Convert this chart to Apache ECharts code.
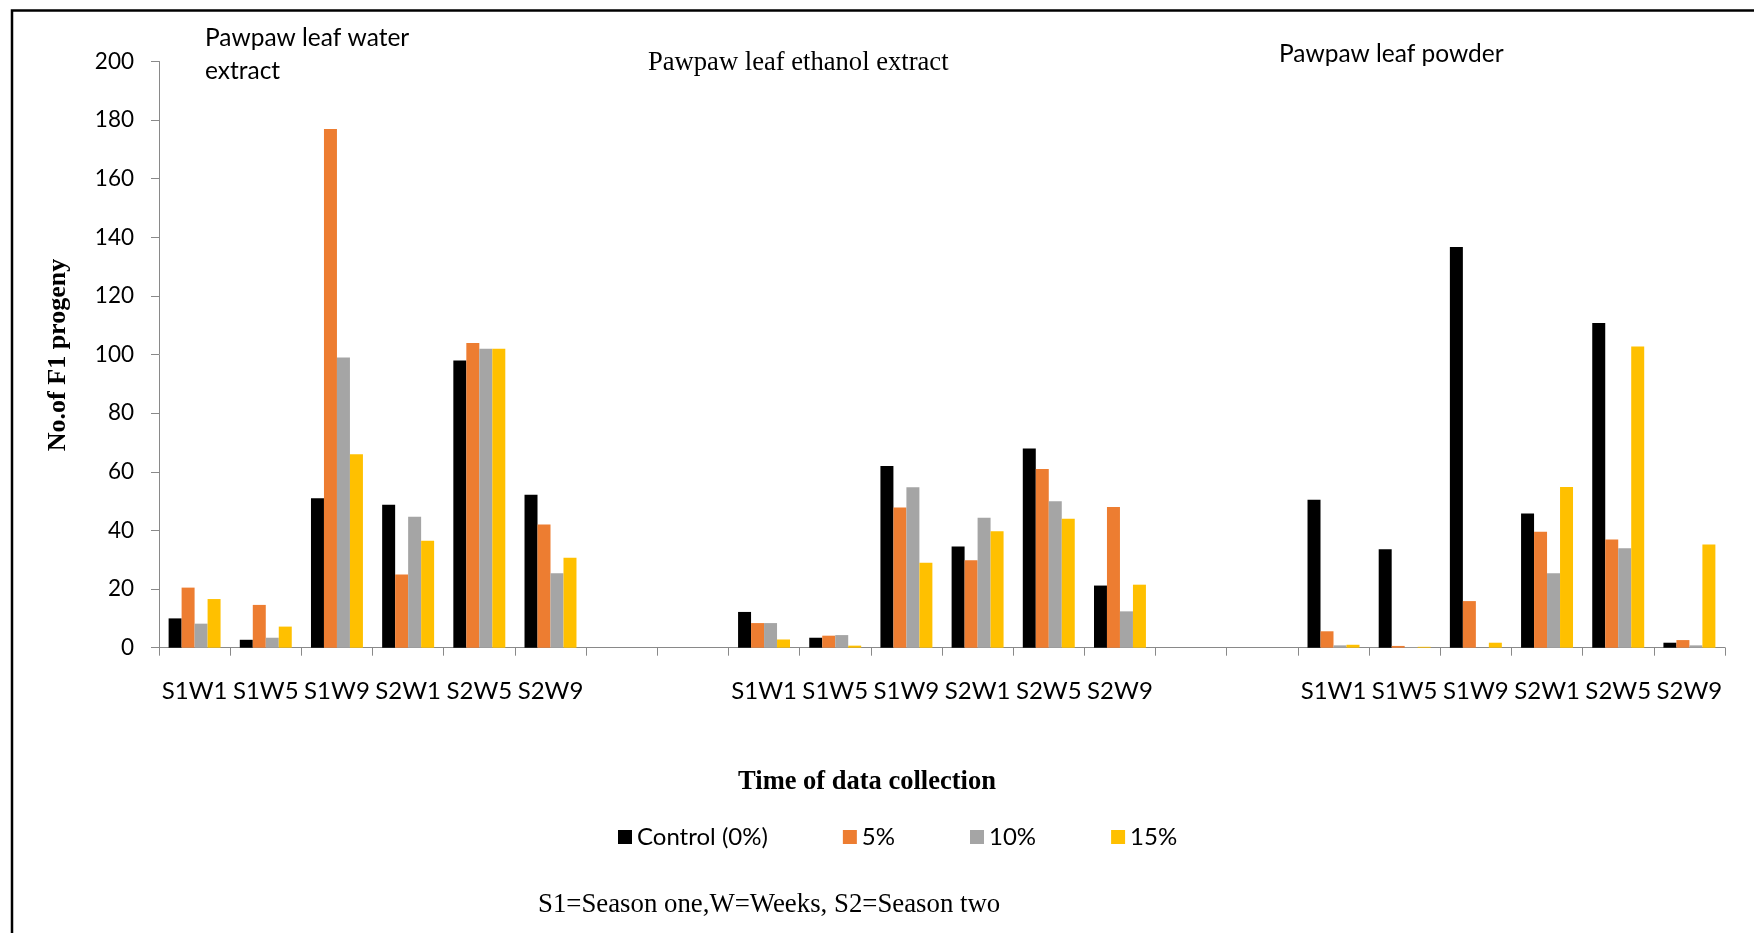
<!DOCTYPE html>
<html>
<head>
<meta charset="utf-8">
<script src="https://cdn.jsdelivr.net/npm/echarts@6/dist/echarts.min.js"></script>
<style>
  html, body { margin: 0; padding: 0; background: #fff; }
  #chart { width: 1754px; height: 933px; }
</style>
</head>
<body>
<div id="chart"></div>
<script>
// Sampling times (S = season, W = week) repeated for each pawpaw leaf treatment
const timePoints = ['S1W1', 'S1W5', 'S1W9', 'S2W1', 'S2W5', 'S2W9'];
const seriesNames = ['Control (0%)', '5%', '10%', '15%'];
const seriesColors = ['#000000', '#ED7D31', '#A5A5A5', '#FFC000'];
const yTicks = { min: 0, max: 200, step: 20 };

// No. of F1 progeny — pawpaw leaf water extract
const waterControl = [10, 2.7, 51, 48.8, 98, 52.2];
const water5 = [20.5, 14.6, 177, 25, 104, 42];
const water10 = [8.2, 3.4, 99, 44.7, 102, 25.4];
const water15 = [16.6, 7.2, 66, 36.5, 102, 30.7];

// No. of F1 progeny — pawpaw leaf ethanol extract
const ethanolControl = [12.2, 3.4, 62, 34.5, 68, 21.2];
const ethanol5 = [8.4, 4.1, 47.8, 29.8, 61, 48];
const ethanol10 = [8.4, 4.3, 54.7, 44.3, 50, 12.4];
const ethanol15 = [2.8, 0.7, 29, 39.7, 44, 21.5];

// No. of F1 progeny — pawpaw leaf powder
const powderControl = [50.5, 33.6, 136.7, 45.8, 110.8, 1.7];
const powder5 = [5.6, 0.6, 15.9, 39.6, 36.9, 2.6];
const powder10 = [0.8, 0.2, 0, 25.4, 33.9, 0.8];
const powder15 = [1, 0.3, 1.7, 54.8, 102.8, 35.2];

// Two empty slots separate the three treatment blocks on the category axis
const gap = ['', ''];
const gapValues = [null, null];
const categories = [...timePoints, ...gap, ...timePoints, ...gap, ...timePoints];
const joinBlocks = (a, b, c) => [...a, ...gapValues, ...b, ...gapValues, ...c];

const seriesValues = [
  joinBlocks(waterControl, ethanolControl, powderControl),
  joinBlocks(water5, ethanol5, powder5),
  joinBlocks(water10, ethanol10, powder10),
  joinBlocks(water15, ethanol15, powder15)
];

const SANS = 'Lato, "Open Sans", sans-serif';
const SERIF = '"Liberation Serif", "DejaVu Serif", serif';

const chart = echarts.init(document.getElementById('chart'), null, { renderer: 'canvas' });

chart.setOption({
  backgroundColor: '#ffffff',
  animation: false,
  color: seriesColors,
  grid: { left: 159, right: 29, top: 61.5, bottom: 285.3, containLabel: false },
  legend: {
    data: seriesNames,
    left: 613,
    top: 820,
    itemWidth: 14,
    itemHeight: 14,
    itemGap: 75,
    icon: 'rect',
    textStyle: { fontFamily: SANS, fontSize: 24, color: '#000' }
  },
  xAxis: {
    type: 'category',
    data: categories,
    boundaryGap: true,
    axisLine: { show: true, lineStyle: { color: '#898989', width: 1 } },
    axisTick: { show: true, interval: 0, length: 8, alignWithLabel: false, lineStyle: { color: '#898989' } },
    axisLabel: { interval: 0, margin: 32, fontFamily: SANS, fontSize: 24, color: '#000' },
    splitLine: { show: false }
  },
  yAxis: {
    type: 'value',
    min: yTicks.min,
    max: yTicks.max,
    interval: yTicks.step,
    axisLine: { show: true, lineStyle: { color: '#898989', width: 1 } },
    axisTick: { show: true, length: 8, lineStyle: { color: '#898989' } },
    axisLabel: { margin: 25, fontFamily: SANS, fontSize: 22.5, color: '#000' },
    splitLine: { show: false }
  },
  series: seriesNames.map((name, i) => ({
    name: name,
    type: 'bar',
    data: seriesValues[i],
    barGap: '0%',
    barCategoryGap: '27%',
    itemStyle: { color: seriesColors[i] }
  })),
  graphic: [
    // outer frame (left and top edges visible)
    {
      type: 'rect', silent: true, z: 100,
      shape: { x: 12, y: 10.5, width: 1800, height: 1000 },
      style: { fill: 'none', stroke: '#000', lineWidth: 2.5 }
    },
    {
      type: 'text', left: 205, top: 22,
      style: { text: 'Pawpaw leaf water\nextract', fontFamily: SANS, fontSize: 24.5, lineHeight: 33, fill: '#000' }
    },
    {
      type: 'text', x: 648, y: 63,
      style: { text: 'Pawpaw leaf ethanol extract', fontFamily: SERIF, fontSize: 26.6, fill: '#000', align: 'left', verticalAlign: 'middle' }
    },
    {
      type: 'text', x: 1279, y: 54,
      style: { text: 'Pawpaw leaf powder', fontFamily: SANS, fontSize: 24.5, fill: '#000', align: 'left', verticalAlign: 'middle' }
    },
    {
      type: 'text', x: 58, y: 355, rotation: Math.PI / 2,
      style: { text: 'No.of F1 progeny', fontFamily: SERIF, fontWeight: 'bold', fontSize: 26, fill: '#000', align: 'center', verticalAlign: 'middle' }
    },
    {
      type: 'text', x: 867, y: 782,
      style: { text: 'Time of data collection', fontFamily: SERIF, fontWeight: 'bold', fontSize: 26.5, fill: '#000', align: 'center', verticalAlign: 'middle' }
    },
    {
      type: 'text', x: 538, y: 905,
      style: { text: 'S1=Season one,W=Weeks, S2=Season two', fontFamily: SERIF, fontSize: 26.8, fill: '#000', align: 'left', verticalAlign: 'middle' }
    }
  ]
});
</script>
</body>
</html>
